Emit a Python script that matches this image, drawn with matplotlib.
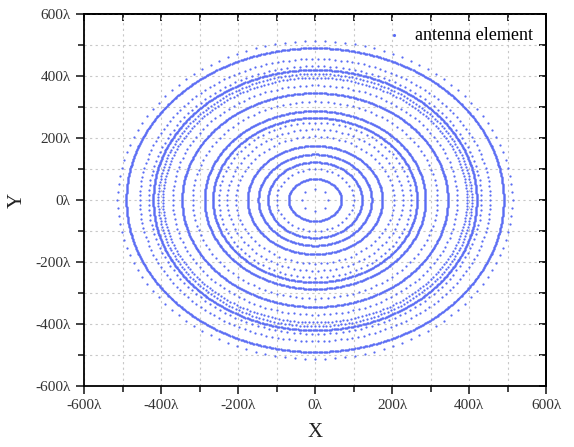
import numpy as np
import matplotlib
matplotlib.use("Agg")
import matplotlib.pyplot as plt
from matplotlib.ticker import MultipleLocator, FuncFormatter, NullFormatter

# ring radii (in wavelengths) and element counts per ring
ring_radius = [35, 68, 100, 122, 147, 175, 205, 228, 250, 265, 287, 318, 345,
               370, 395, 407, 420, 432, 455, 490, 513]
ring_count = [8, 140, 40, 240, 290, 350, 80, 90, 100, 520, 560, 120, 680,
              150, 250, 260, 820, 170, 190, 960, 124]

xs, ys = [], []
for r, n in zip(ring_radius, ring_count):
    th = np.arange(n) * 2 * np.pi / n
    xs.append(r * np.cos(th))
    ys.append(r * np.sin(th))
xs = np.concatenate(xs)
ys = np.concatenate(ys)

plt.rcParams['font.family'] = ['Liberation Serif', 'DejaVu Serif']
fig = plt.figure(figsize=(5.74, 4.47), dpi=100)
ax = fig.add_axes([84/574, 1-386/447, (546-84)/574, (386-14)/447])

color = '#5a6cf4'
ax.scatter(xs, ys, s=2.6, color=color, linewidths=0, label='antenna element', zorder=3)

ax.set_xlim(-600, 600)
ax.set_ylim(-600, 600)
fmt = FuncFormatter(lambda v, p: f"{int(round(v))}\u03bb")
for axis in (ax.xaxis, ax.yaxis):
    axis.set_major_locator(MultipleLocator(200))
    axis.set_minor_locator(MultipleLocator(100))
    axis.set_major_formatter(fmt)
ax.tick_params(which='both', direction='out', labelsize=11, width=1.2,
               colors='#222222', labelcolor='#333333')
ax.tick_params(which='major', length=6)
ax.tick_params(which='minor', length=4)

# inward ticks on top and right
top = ax.secondary_xaxis('top')
right = ax.secondary_yaxis('right')
for sec in (top, right):
    a = sec.xaxis if sec is top else sec.yaxis
    a.set_major_locator(MultipleLocator(100))
    a.set_major_formatter(NullFormatter())
    sec.tick_params(which='major', direction='in', length=5, width=1.2)
    for s in sec.spines.values():
        s.set_linewidth(1.3)

ax.grid(True, which='both', linestyle=(0, (2, 3)), color='#c8c8c8', linewidth=0.8)
for s in ax.spines.values():
    s.set_linewidth(1.3)
ax.set_xlabel('X', fontsize=15, labelpad=8, color='#222222')
ax.set_ylabel('Y', fontsize=15, labelpad=6, color='#222222')
ax.legend(loc='upper right', frameon=False, fontsize=13, markerscale=1.4,
          handletextpad=0.2, borderaxespad=0.3, scatterpoints=1)

fig.savefig('out.png', dpi=100)
